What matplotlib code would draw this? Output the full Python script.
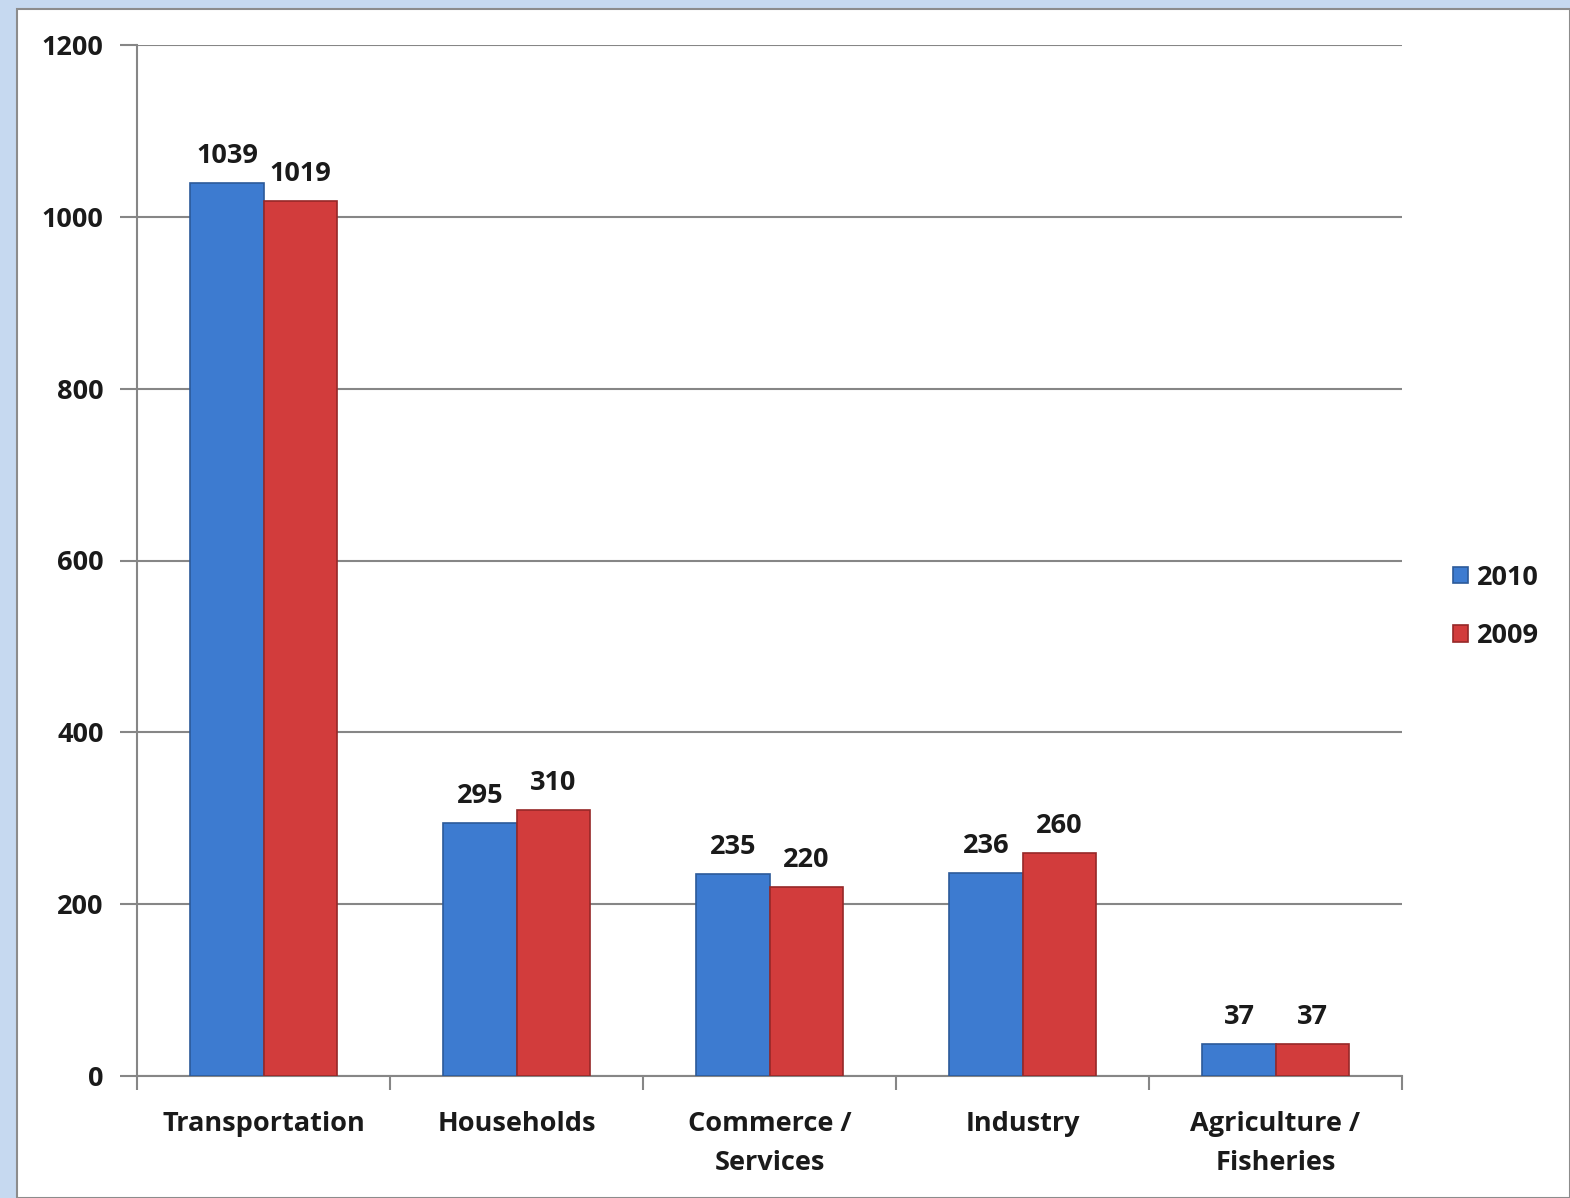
import matplotlib
matplotlib.use("Agg")
import matplotlib.pyplot as plt
import numpy as np
from matplotlib.patches import Rectangle

categories = ["Transportation", "Households", "Commerce /\nServices", "Industry", "Agriculture /\nFisheries"]
series_names = ["2010", "2009"]
values_2010 = [1039, 295, 235, 236, 37]
values_2009 = [1019, 310, 220, 260, 37]
yticks = [0, 200, 400, 600, 800, 1000, 1200]

plt.rcParams['font.family'] = ['Open Sans', 'DejaVu Sans']
plt.rcParams['font.weight'] = 'bold'

W, H = 1570, 1198
fig = plt.figure(figsize=(W / 100, H / 100), dpi=100)
fig.patch.set_facecolor('#c6d9f0')
# white panel
fig.patches.append(Rectangle((17 / W, 0), 1 - 17 / W, 1 - 9 / H, transform=fig.transFigure,
                             facecolor='white', edgecolor='#8c8c8c', linewidth=1.5, zorder=-10))

ax = fig.add_axes([137 / W, 1 - 1076 / H, (1402 - 137) / W, (1076 - 45) / H])
ax.set_zorder(5)
ax.set_facecolor('white')

x = np.arange(len(categories))
bw = 0.289
blue, red = '#3d7bd0', '#d23c3c'
b1 = ax.bar(x - bw / 2, values_2010, bw, color=blue, edgecolor='#2c5a99', linewidth=1.2, zorder=3, label=series_names[0])
b2 = ax.bar(x + bw / 2, values_2009, bw, color=red, edgecolor='#962828', linewidth=1.2, zorder=3, label=series_names[1])

txt = '#1a1a1a'
fs = 19.5
for bars, vals in ((b1, values_2010), (b2, values_2009)):
    for r, v in zip(bars, vals):
        ax.annotate(str(v), (r.get_x() + r.get_width() / 2, v), xytext=(0, 10), textcoords='offset points',
                    ha='center', va='bottom', fontsize=fs, fontweight='bold', color=txt)

ax.set_xlim(-0.5, len(categories) - 0.5)
ax.set_ylim(0, 1200)
ax.set_yticks(yticks)
ax.set_yticklabels([str(t) for t in yticks], fontsize=fs, fontweight='bold', color=txt)
ax.yaxis.grid(True, color='#868686', linewidth=1.5, zorder=0)
ax.set_axisbelow(True)

ax.set_xticks(x)
ax.set_xticklabels(categories, fontsize=fs, fontweight='bold', color=txt, linespacing=1.68)
ax.tick_params(axis='x', length=0, pad=25)
ax.set_xticks(np.arange(-0.5, len(categories), 1), minor=True)
ax.tick_params(axis='x', which='minor', length=10, width=1.5, color='#868686')
ax.tick_params(axis='y', length=12, width=1.5, color='#868686', pad=12)

for s in ['top', 'right']:
    ax.spines[s].set_visible(False)
for s in ['left', 'bottom']:
    ax.spines[s].set_color('#868686')
    ax.spines[s].set_linewidth(1.5)

leg = ax.legend(loc='center left', bbox_to_anchor=(1.021, 0.455), frameon=False,
                handlelength=0.55, handleheight=0.55, handletextpad=0.35, labelspacing=1.2,
                prop={'weight': 'bold', 'size': fs})
for t in leg.get_texts():
    t.set_color(txt)

fig.savefig('out.png', dpi=100, facecolor=fig.get_facecolor())
